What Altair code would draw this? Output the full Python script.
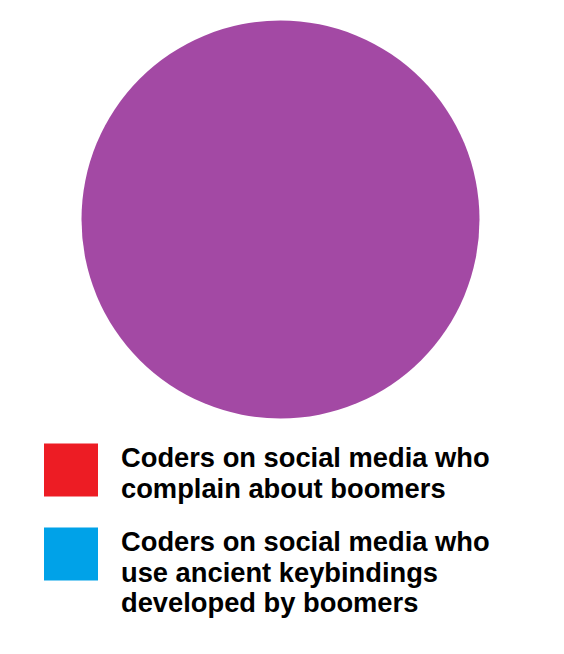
import altair as alt
import pandas as pd

# Legend categories (each label line separated by "\n")
groups = [
    "Coders on social media who\ncomplain about boomers",
    "Coders on social media who\nuse ancient keybindings\ndeveloped by boomers",
    "Both",
]
colors = ["#ED1C24", "#00A2E8", "#A349A4"]

# The pie: every coder belongs to both groups (the overlap)
pie_groups = ["Both"]
pie_shares = [100]

df = pd.DataFrame({"group": pie_groups, "share": pie_shares})

# square legend swatch, drawn a little below the label's baseline anchor
swatch = "M-1,-0.87H1V1.09H-1Z"

chart = (
    alt.Chart(df)
    .mark_arc(radius=199, stroke=None)
    .encode(
        theta=alt.Theta("share:Q"),
        color=alt.Color(
            "group:N",
            scale=alt.Scale(domain=groups, range=colors),
            legend=alt.Legend(
                values=groups[:2],
                title=None,
                orient="none",
                legendX=36,
                legendY=432,
                padding=0,
                symbolType=swatch,
                symbolSize=2916,
                symbolStrokeWidth=0,
                symbolOpacity=1,
                labelFont="Liberation Sans",
                labelFontWeight="bold",
                labelFontSize=27.3,
                labelColor="#000000",
                labelLimit=1000,
                labelOffset=23,
                labelBaseline="alphabetic",
                rowPadding=21,
                labelExpr="split(datum.label, '\\n')",
            ),
        ),
    )
    .properties(width=545, height=423, padding=0)
    .configure_view(stroke=None)
    .configure(style={"guide-label": {"lineHeight": 30.6}})
)

chart.save("out.html", embed_options={"renderer": "svg", "actions": False})
